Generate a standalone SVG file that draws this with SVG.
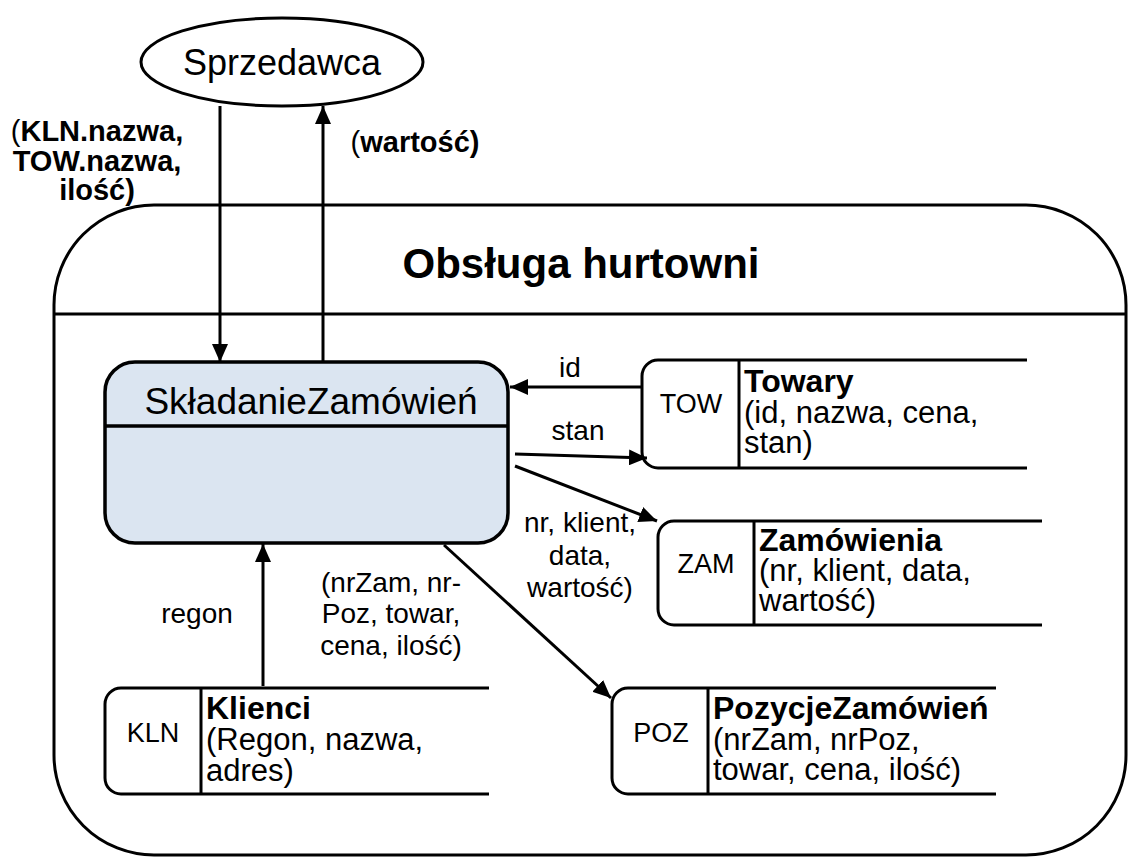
<svg xmlns="http://www.w3.org/2000/svg" width="1128" height="857" viewBox="0 0 1128 857">
  <style>
    .ln { fill: none; stroke: #000; stroke-width: 3; }
    .t { font-family: "Liberation Sans", Arial, sans-serif; fill: #000; }
    .b { font-weight: bold; }
    .m { text-anchor: middle; }
    .lbl { font-size: 28px; }
    .st { font-size: 31px; }
    .hd { font-weight: bold; font-size: 32px; }
    .code { font-size: 27px; }
  </style>
  <defs>
    <marker id="arr" markerUnits="userSpaceOnUse" markerWidth="20" markerHeight="16" refX="18" refY="8" orient="auto">
      <path d="M0,0 L18,8 L0,16 z" fill="#000"/>
    </marker>
  </defs>

  <rect width="1128" height="857" fill="#fff"/>

  <!-- system boundary -->
  <g id="system">
    <rect class="ln" x="54" y="205" width="1072" height="650" rx="100" ry="100"/>
    <line class="ln" x1="54" y1="314" x2="1126" y2="314"/>
    <text class="t b m" x="581" y="278" font-size="42">Obsługa hurtowni</text>
  </g>

  <!-- external entity -->
  <g id="sprzedawca">
    <ellipse class="ln" cx="282" cy="62" rx="141" ry="44"/>
    <text class="t m" x="282" y="75" font-size="36">Sprzedawca</text>
  </g>

  <!-- process -->
  <g id="skladanie">
    <rect x="105" y="362" width="403" height="181" rx="30" ry="30" fill="#dbe5f1" stroke="#000" stroke-width="3.5"/>
    <line x1="105" y1="426" x2="508" y2="426" stroke="#000" stroke-width="3.5"/>
    <text class="t m" x="311" y="414" font-size="37">SkładanieZamówień</text>
  </g>

  <!-- data stores -->
  <g id="tow">
    <path class="ln" d="M1027,360 H658 A16,16 0 0 0 642,376 V452 A16,16 0 0 0 658,468 H1027"/>
    <line class="ln" x1="739" y1="360" x2="739" y2="468"/>
    <text class="t m code" x="691" y="413">TOW</text>
    <text class="t st" x="744" y="392"><tspan class="hd">Towary</tspan><tspan x="744" y="423">(id, nazwa, cena,</tspan><tspan x="744" y="453">stan)</tspan></text>
  </g>

  <g id="zam">
    <path class="ln" d="M1042,521 H674 A16,16 0 0 0 658,537 V609 A16,16 0 0 0 674,625 H1042"/>
    <line class="ln" x1="754" y1="521" x2="754" y2="625"/>
    <text class="t m code" x="706" y="573">ZAM</text>
    <text class="t st" x="759" y="551"><tspan class="hd">Zamówienia</tspan><tspan x="759" y="581">(nr, klient, data,</tspan><tspan x="759" y="611">wartość)</tspan></text>
  </g>

  <g id="kln">
    <path class="ln" d="M489,688 H121 A16,16 0 0 0 105,704 V778 A16,16 0 0 0 121,794 H489"/>
    <line class="ln" x1="201" y1="688" x2="201" y2="794"/>
    <text class="t m code" x="153" y="742">KLN</text>
    <text class="t st" x="206" y="719"><tspan class="hd">Klienci</tspan><tspan x="206" y="750">(Regon, nazwa,</tspan><tspan x="206" y="781">adres)</tspan></text>
  </g>

  <g id="poz">
    <path class="ln" d="M996,688 H628 A16,16 0 0 0 612,704 V778 A16,16 0 0 0 628,794 H996"/>
    <line class="ln" x1="708" y1="688" x2="708" y2="794"/>
    <text class="t m code" x="661" y="742">POZ</text>
    <text class="t st" x="713" y="719"><tspan class="hd">PozycjeZamówień</tspan><tspan x="713" y="750">(nrZam, nrPoz,</tspan><tspan x="713" y="780">towar, cena, ilość)</tspan></text>
  </g>

  <!-- data flows -->
  <g id="connectors">
    <line class="ln" x1="220" y1="106" x2="220" y2="362" marker-end="url(#arr)"/>
    <line class="ln" x1="323" y1="362" x2="323" y2="106" marker-end="url(#arr)"/>
    <line class="ln" x1="642" y1="387" x2="510" y2="387" marker-end="url(#arr)"/>
    <line class="ln" x1="515" y1="454" x2="647" y2="458" marker-end="url(#arr)"/>
    <line class="ln" x1="515" y1="466" x2="657" y2="521" marker-end="url(#arr)"/>
    <line class="ln" x1="444" y1="545" x2="611" y2="698" marker-end="url(#arr)"/>
    <line class="ln" x1="263" y1="686" x2="263" y2="544" marker-end="url(#arr)"/>
  </g>

  <!-- flow labels -->
  <g id="labels">
    <text class="t m" x="97" y="141" font-size="29"><tspan>(</tspan><tspan class="b">KLN.nazwa,</tspan><tspan class="b" x="97" y="171">TOW.nazwa,</tspan><tspan class="b" x="97" y="200">ilość)</tspan></text>
    <text class="t m" x="415" y="152" font-size="29"><tspan>(</tspan><tspan class="b">wartość)</tspan></text>
    <text class="t m lbl" x="570" y="377">id</text>
    <text class="t m lbl" x="578" y="440">stan</text>
    <text class="t m lbl" x="580" y="532">nr, klient,<tspan x="580" y="565">data,</tspan><tspan x="580" y="597">wartość)</tspan></text>
    <text class="t m lbl" x="391" y="592">(nrZam, nr-<tspan x="391" y="623">Poz, towar,</tspan><tspan x="391" y="655">cena, ilość)</tspan></text>
    <text class="t m lbl" x="197" y="623">regon</text>
  </g>
</svg>
